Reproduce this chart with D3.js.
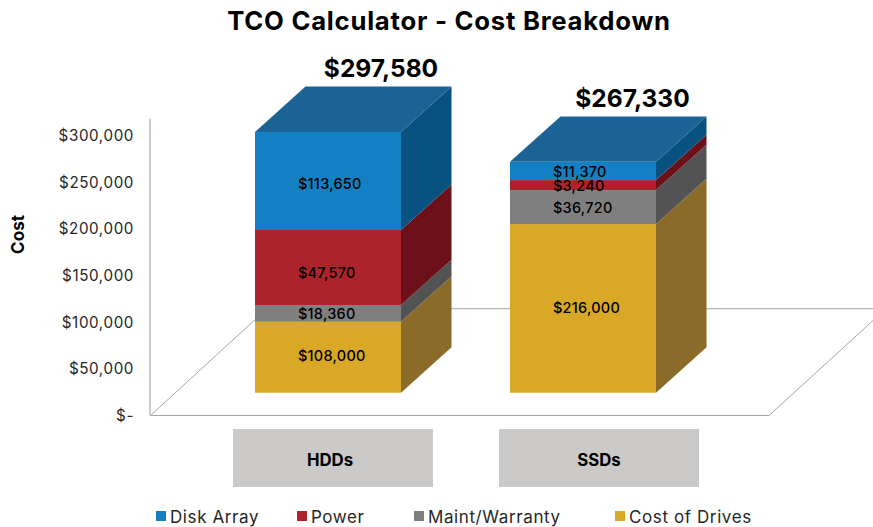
<!DOCTYPE html>
<html><head><meta charset="utf-8"><script src="https://cdn.jsdelivr.net/npm/d3@7"></script>
<style>html,body{margin:0;padding:0;background:#fff}svg{display:block}text{font-family:Inter,"Open Sans",sans-serif;fill:#000}</style></head>
<body><div id="c"></div><script>
const categories=["HDDs","SSDs"];
const seriesNames=["Cost of Drives","Maint/Warranty","Power","Disk Array"];
// Drawn segment heights (the printed labels do not scale with it)
const costOfDrives=[76000,180700];
const maintWarranty=[17900,36400];
const power=[80400,10700];
const diskArray=[105000,19600];
const costOfDrivesLabels=["$108,000","$216,000"];
const maintWarrantyLabels=["$18,360","$36,720"];
const powerLabels=["$47,570","$3,240"];
const diskArrayLabels=["$113,650","$11,370"];
const totalLabels=["$297,580","$267,330"];
const yTicks=[0,50000,100000,150000,200000,250000,300000];
const legendOrder=["Disk Array","Power","Maint/Warranty","Cost of Drives"];
const front={"Cost of Drives":"#d8a826","Maint/Warranty":"#7f7f7f","Power":"#ad232b","Disk Array":"#1480c4"};
const side={"Cost of Drives":"#8a6b2a","Maint/Warranty":"#535353","Power":"#6c101a","Disk Array":"#08527f"};
const topColor="#1b6395";

const W=873,H=527,dx=50.5,dy=45.4;
const svg=d3.select("#c").append("svg").attr("width",W).attr("height",H);
const y=d3.scaleLinear().domain([0,300000]).range([415,135]);
const barY=d3.scaleLinear().domain([0,300000]).range([392.7,112.7]);
const x=d3.scaleBand().domain(categories).range([153,758]).paddingInner(0.42745).paddingOuter(0.4);
const plateX=d3.scaleBand().domain(categories).range([233,699]).paddingInner(0.248);
const legendX=d3.scalePoint().domain(legendOrder);

svg.append("text").attr("x",449).attr("y",29.5).attr("text-anchor","middle").attr("font-size",25.7).attr("font-weight",700).attr("letter-spacing",0.75).text("TCO Calculator - Cost Breakdown");

// floor
const floor=svg.append("g").attr("fill","none").attr("stroke","#a6a6a6").attr("stroke-width",1);
floor.append("path").attr("d","M150.5,415.5L769,415.5L886,308.7L267,308.7L150.5,415.5");
svg.append("path").attr("d","M150,119V415.5").attr("stroke","#bfbfbf").attr("stroke-width",1.6).attr("fill","none");

// axis
const axis=d3.axisLeft(y).tickValues(yTicks).tickSize(0).tickPadding(0).tickFormat(d=>d===0?"$-":"$"+d3.format(",")(d));
const ga=svg.append("g").attr("transform","translate(134,0.7)").call(axis);
ga.select(".domain").remove();
ga.selectAll("text").attr("font-size",15.2).attr("font-family",null).attr("letter-spacing",0.6).style("fill","#262626");
svg.append("text").attr("transform","translate(23.5,234.5) rotate(-90)").attr("text-anchor","middle").attr("font-size",17).attr("font-weight",700).text("Cost");

// bars
const stackValues=[costOfDrives,maintWarranty,power,diskArray];
const labelValues=[costOfDrivesLabels,maintWarrantyLabels,powerLabels,diskArrayLabels];
const labelShift=[[-1,-1],[0,1],[5.5,1],[3,1]];
const totalShift=[126,122.5], labelInset=[43,43], categoryShift=[-3,0];
categories.forEach((c,ci)=>{
  const g=svg.append("g");
  const xl=x(c),xr=xl+x.bandwidth();
  let acc=0;
  const labels=[];
  seriesNames.forEach((s,si)=>{
    const v=stackValues[si][ci];
    const y0=barY(acc),y1=barY(acc+v);
    g.append("path").attr("d",`M${xr},${y0}L${xr+dx},${y0-dy}L${xr+dx},${y1-dy}L${xr},${y1}Z`).attr("fill",side[s]);
    g.append("rect").attr("x",xl).attr("y",y1).attr("width",x.bandwidth()).attr("height",y0-y1).attr("fill",front[s]);
    labels.push({t:labelValues[si][ci],x:xl+labelInset[ci],y:(y0+y1)/2+labelShift[si][ci]});
    acc+=v;
  });
  const t=barY(acc);
  g.append("path").attr("d",`M${xl},${t}L${xr},${t}L${xr+dx},${t-dy}L${xl+dx},${t-dy}Z`).attr("fill",topColor);
  labels.forEach(l=>g.append("text").attr("x",l.x).attr("y",l.y).attr("dy","0.36em").attr("font-size",14.5).attr("font-weight",500).attr("letter-spacing",0.25).text(l.t));
  svg.append("text").attr("x",xl+totalShift[ci]).attr("y",t-dy-9.3).attr("text-anchor","middle").attr("font-size",24.5).attr("font-weight",700).text(totalLabels[ci]);
  // category plate
  svg.append("rect").attr("x",plateX(c)).attr("y",429).attr("width",plateX.bandwidth()).attr("height",58).attr("fill","#cbcac8");
  svg.append("text").attr("x",plateX(c)+plateX.bandwidth()/2+categoryShift[ci]).attr("y",466).attr("text-anchor","middle").attr("font-size",16.8).attr("font-weight",700).text(c);
});

// legend
const legendPos=[156,297,414,615];
legendOrder.forEach((s,i)=>{
  svg.append("rect").attr("x",legendPos[i]).attr("y",511).attr("width",10).attr("height",10).attr("fill",front[s]);
  svg.append("text").attr("x",legendPos[i]+14).attr("y",523).attr("font-size",17).attr("letter-spacing",0.6).style("fill","#262626").text(s);
});
</script></body></html>
